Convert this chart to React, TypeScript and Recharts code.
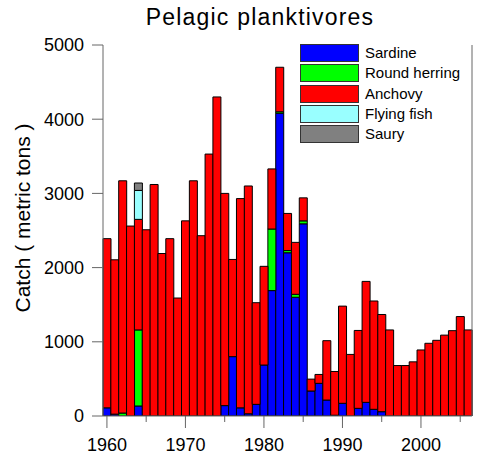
import React from 'react';
import { BarChart, Bar, XAxis, YAxis, Legend } from 'recharts';

const years = [
  1960, 1961, 1962, 1963, 1964, 1965, 1966, 1967, 1968, 1969,
  1970, 1971, 1972, 1973, 1974, 1975, 1976, 1977, 1978, 1979,
  1980, 1981, 1982, 1983, 1984, 1985, 1986, 1987, 1988, 1989,
  1990, 1991, 1992, 1993, 1994, 1995, 1996, 1997, 1998, 1999,
  2000, 2001, 2002, 2003, 2004, 2005, 2006,
];

const sardine = [
  110, 25, 0, 0, 135, 0, 0, 0, 0, 0,
  0, 0, 0, 0, 0, 140, 800, 110, 30, 157,
  687, 1690, 4080, 2200, 1600, 2590, 337, 440, 215, 10,
  171, 0, 103, 184, 90, 58, 0, 0, 0, 0,
  0, 0, 0, 0, 0, 0, 0,
];

const roundHerring = [
  0, 0, 40, 0, 1025, 0, 0, 0, 0, 0,
  0, 0, 0, 0, 0, 0, 0, 0, 0, 0,
  0, 830, 20, 30, 40, 40, 0, 0, 0, 0,
  0, 0, 0, 0, 0, 0, 0, 0, 0, 0,
  0, 0, 0, 0, 0, 0, 0,
];

const anchovy = [
  2280, 2080, 3130, 2560, 1490, 2510, 3120, 2190, 2390, 1590,
  2630, 3170, 2430, 3530, 4300, 2860, 1310, 2820, 3070, 1370,
  1330, 810, 600, 500, 700, 310, 160, 120, 800, 590,
  1310, 830, 1050, 1630, 1460, 1310, 1160, 680, 680, 730,
  890, 980, 1020, 1090, 1150, 1340, 1160,
];

const flyingFish = [
  0, 0, 0, 0, 390, 0, 0, 0, 0, 0,
  0, 0, 0, 0, 0, 0, 0, 0, 0, 0,
  0, 0, 0, 0, 0, 0, 0, 0, 0, 0,
  0, 0, 0, 0, 0, 0, 0, 0, 0, 0,
  0, 0, 0, 0, 0, 0, 0,
];

const saury = [
  0, 0, 0, 0, 100, 0, 0, 0, 0, 0,
  0, 0, 0, 0, 0, 0, 0, 0, 0, 0,
  0, 0, 0, 0, 0, 0, 0, 0, 0, 0,
  0, 0, 0, 0, 0, 0, 0, 0, 0, 0,
  0, 0, 0, 0, 0, 0, 0,
];

const yTicks = [0, 1000, 2000, 3000, 4000, 5000];

const series = [
  { key: 'sardine', name: 'Sardine', color: '#0000ff' },
  { key: 'roundHerring', name: 'Round herring', color: '#00ff00' },
  { key: 'anchovy', name: 'Anchovy', color: '#ff0000' },
  { key: 'flyingFish', name: 'Flying fish', color: '#99ffff' },
  { key: 'saury', name: 'Saury', color: '#808080' },
];

const data = years.map((year, i) => ({
  year,
  sardine: sardine[i],
  roundHerring: roundHerring[i],
  anchovy: anchovy[i],
  flyingFish: flyingFish[i],
  saury: saury[i],
}));

const AXIS = '#666';

const YearTick = (props: any) => {
  const { x, y, payload } = props;
  const yr = Number(payload.value);
  if (yr % 5 !== 0) return <g />;
  const major = yr % 10 === 0;
  return (
    <g>
      <line x1={x} x2={x} y1={y} y2={y + (major ? 12 : 6)} stroke={AXIS} />
      {major && (
        <text x={x} y={y + 35} textAnchor="middle" fontSize={18} fill="#000">
          {yr}
        </text>
      )}
    </g>
  );
};

const LegendBox = () => (
  <div>
    {series.map((s) => (
      <div key={s.key} style={{ display: 'flex', alignItems: 'center', height: 20.3 }}>
        <div
          style={{
            width: 57,
            height: 16,
            background: s.color,
            border: '1px solid #333',
          }}
        />
        <span style={{ marginLeft: 6, fontSize: 15, color: '#000', lineHeight: '16px' }}>{s.name}</span>
      </div>
    ))}
  </div>
);

export default function App() {
  return (
    <div
      style={{
        position: 'absolute',
        left: 0,
        top: 0,
        width: 491,
        height: 454,
        background: '#fff',
        fontFamily: '"Liberation Sans", Arial, sans-serif',
      }}
    >
      <div
        style={{
          position: 'absolute',
          left: 260,
          top: 4,
          transform: 'translateX(-50%)',
          fontSize: 23,
          letterSpacing: 1.2,
          whiteSpace: 'nowrap',
          color: '#000',
        }}
      >
        Pelagic planktivores
      </div>
      <div
        style={{
          position: 'absolute',
          left: 23,
          top: 218,
          transform: 'translate(-50%, -50%) rotate(-90deg)',
          fontSize: 21,
          whiteSpace: 'nowrap',
          color: '#000',
        }}
      >
        Catch ( metric tons )
      </div>
      <BarChart
        width={491}
        height={454}
        data={data}
        margin={{ top: 45, right: 0, bottom: 0, left: 43 }}
        barCategoryGap={0}
        barGap={0}
      >
        <XAxis
          dataKey="year"
          height={38}
          interval={0}
          tickSize={0}
          tickMargin={0}
          tickLine={false}
          axisLine={{ stroke: AXIS }}
          tick={<YearTick />}
        />
        <YAxis
          yAxisId="left"
          width={60}
          domain={[0, 5000]}
          ticks={yTicks}
          tickSize={11}
          tickMargin={8}
          axisLine={{ stroke: AXIS }}
          tickLine={{ stroke: AXIS }}
          tick={{ fontSize: 18, fill: '#000' }}
          allowDataOverflow
        />
        <YAxis
          yAxisId="right"
          orientation="right"
          width={19}
          domain={[0, 5000]}
          ticks={yTicks}
          tickSize={13}
          axisLine={{ stroke: AXIS }}
          tickLine={{ stroke: AXIS }}
          tick={false}
        />
        <Legend
          verticalAlign="middle"
          content={() => <LegendBox />}
          wrapperStyle={{ left: 300, top: 43, width: 180 }}
        />
        {series.map((s) => (
          <Bar
            key={s.key}
            yAxisId="left"
            dataKey={s.key}
            name={s.name}
            stackId="catch"
            fill={s.color}
            stroke="#000"
            strokeWidth={1}
            isAnimationActive={false}
          />
        ))}
      </BarChart>
    </div>
  );
}
